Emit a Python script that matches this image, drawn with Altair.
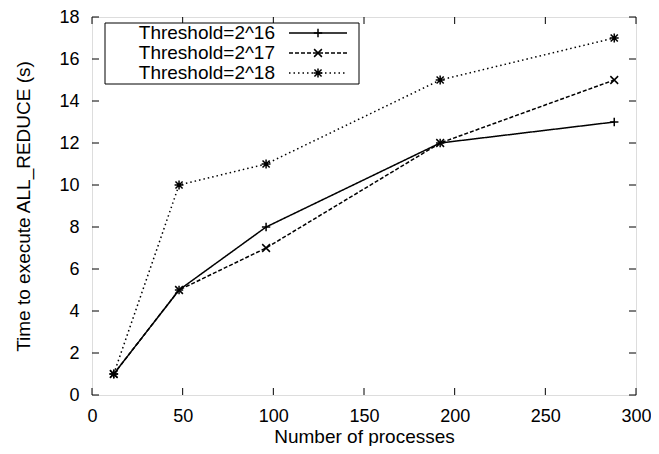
import altair as alt
import pandas as pd

processes = [12, 48, 96, 192, 288]
series_names = ["Threshold=2^16", "Threshold=2^17", "Threshold=2^18"]
t16 = [1, 5, 8, 12, 13]
t17 = [1, 5, 7, 12, 15]
t18 = [1, 10, 11, 15, 17]
values = [t16, t17, t18]

x_ticks = [0, 50, 100, 150, 200, 250, 300]
y_ticks = [0, 2, 4, 6, 8, 10, 12, 14, 16, 18]

W, H = 544, 378
FONT = "Liberation Sans"
FS = 19
LFS = 18

plus = "M-1,0L1,0M0,-1L0,1"
cross = "M-1,-1L1,1M-1,1L1,-1"
star = "M-1,0L1,0M0,-1L0,1M-0.8,-0.8L0.8,0.8M-0.8,0.8L0.8,-0.8"
shapes = [plus, cross, star]
dashes = [[1, 0], [4, 2], [1.5, 3]]
sizes = [70, 60, 80]

xs = alt.Scale(domain=[0, 300], nice=False)
ys = alt.Scale(domain=[0, 18], nice=False)

layers = []

# inward ticks
xt = pd.DataFrame({"v": x_ticks})
yt = pd.DataFrame({"v": y_ticks})
layers.append(alt.Chart(xt).mark_rule(color="black", strokeWidth=1).encode(
    x=alt.X("v:Q", scale=xs), y=alt.value(H), y2=alt.value(H - 7)))
layers.append(alt.Chart(xt).mark_rule(color="black", strokeWidth=1).encode(
    x=alt.X("v:Q", scale=xs), y=alt.value(0), y2=alt.value(7)))
layers.append(alt.Chart(yt).mark_rule(color="black", strokeWidth=1).encode(
    y=alt.Y("v:Q", scale=ys), x=alt.value(0), x2=alt.value(7)))
layers.append(alt.Chart(yt).mark_rule(color="black", strokeWidth=1).encode(
    y=alt.Y("v:Q", scale=ys), x=alt.value(W), x2=alt.value(W - 7)))

# data series
for name, vals, shp, dsh, sz in zip(series_names, values, shapes, dashes, sizes):
    df = pd.DataFrame({"p": processes, "t": vals, "s": name})
    base = alt.Chart(df)
    layers.append(base.mark_line(color="black", strokeWidth=1.5, strokeDash=dsh).encode(
        x=alt.X("p:Q", scale=xs), y=alt.Y("t:Q", scale=ys)))
    layers.append(base.mark_point(shape=shp, filled=False, color="black", strokeWidth=1.5,
                                  size=sz, opacity=1).encode(
        x=alt.X("p:Q", scale=xs), y=alt.Y("t:Q", scale=ys)))

# legend box
box = pd.DataFrame({"k": [0]})
layers.append(alt.Chart(box).mark_rect(fill="white", stroke="black", strokeWidth=1).encode(
    x=alt.value(13), x2=alt.value(267), y=alt.value(6), y2=alt.value(67)))
row_y = [16, 36, 56]
for name, shp, dsh, sz, ry in zip(series_names, shapes, dashes, sizes, row_y):
    ld = pd.DataFrame({"s": [name]})
    lb = alt.Chart(ld)
    layers.append(lb.mark_text(align="right", baseline="middle", font=FONT, fontSize=FS,
                               color="black").encode(
        x=alt.value(183), y=alt.value(ry), text="s:N"))
    layers.append(lb.mark_rule(color="black", strokeWidth=1.5, strokeDash=dsh).encode(
        x=alt.value(197), x2=alt.value(255), y=alt.value(ry)))
    layers.append(lb.mark_point(shape=shp, filled=False, color="black", strokeWidth=1.5,
                                size=sz, opacity=1).encode(
        x=alt.value(226), y=alt.value(ry)))

# axes carrier
axdf = pd.DataFrame({"x": [0], "y": [0]})
axes = alt.Chart(axdf).mark_point(opacity=0).encode(
    x=alt.X("x:Q", scale=xs, axis=alt.Axis(
        title="Number of processes", values=x_ticks, ticks=False, tickSize=0, domain=False,
        grid=False, labelFont=FONT, labelFontSize=LFS, labelColor="black",
        labelPadding=21, labelBaseline="middle", labelFlush=False,
        titleFont=FONT, titleFontSize=FS, titleFontWeight="normal", titleColor="black",
        titleY=47, titleBaseline="alphabetic")),
    y=alt.Y("y:Q", scale=ys, axis=alt.Axis(
        title="Time to execute ALL_REDUCE (s)", values=y_ticks, ticks=False, tickSize=0,
        domain=False, grid=False, labelFont=FONT, labelFontSize=LFS, labelColor="black",
        labelPadding=13, labelFlush=False,
        titleFont=FONT, titleFontSize=FS, titleFontWeight="normal", titleColor="black",
        titleAngle=270, titleX=-69, titleY=H / 2, titleBaseline="middle", titleAlign="center")),
)

chart = alt.layer(axes, *layers).properties(
    width=W, height=H,
    autosize=alt.AutoSizeParams(type="none"),
    padding={"left": 84, "top": 9, "right": 15, "bottom": 51},
).configure_view(stroke="black", strokeWidth=1.5).configure(background="white")

chart.save("out.html", embed_options={"renderer": "svg", "actions": False})
